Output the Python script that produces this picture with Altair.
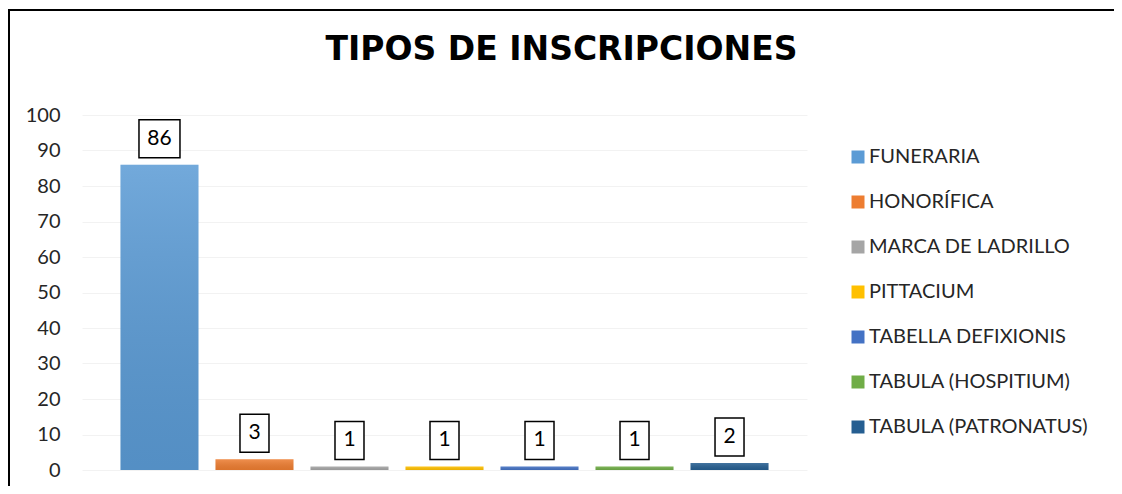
import altair as alt
import pandas as pd

categories = ["FUNERARIA", "HONORÍFICA", "MARCA DE LADRILLO", "PITTACIUM",
              "TABELLA DEFIXIONIS", "TABULA (HOSPITIUM)", "TABULA (PATRONATUS)"]
values = [86, 3, 1, 1, 1, 1, 2]
colors = ["#5B9BD5", "#ED7D31", "#A5A5A5", "#FFC000", "#4472C4", "#70AD47", "#255E91"]
y_ticks = [0, 10, 20, 30, 40, 50, 60, 70, 80, 90, 100]

df = pd.DataFrame({"tipo": categories, "n": values})
FONT = "Lato"
W, H = 725, 355
PAD = {"left": 74, "top": 107, "right": 307, "bottom": 16}

xenc = alt.X("tipo:N", sort=categories, axis=None,
             scale=alt.Scale(paddingInner=0.179, paddingOuter=0.405))
yenc = alt.Y("n:Q", scale=alt.Scale(domain=[0, 100]),
             axis=alt.Axis(values=y_ticks, title=None, domain=False, ticks=False,
                           labelFontSize=20, labelFont=FONT, labelColor="#262626",
                           labelPadding=22, labelOverlap=False, grid=True,
                           gridColor="#f2f2f2"))

base = alt.Chart(df)

bars = base.mark_bar().encode(
    x=xenc, y=yenc,
    color=alt.Color("tipo:N", sort=categories,
                    scale=alt.Scale(domain=categories, range=colors),
                    legend=alt.Legend(title=None, orient="none", legendX=766, legendY=32,
                                      symbolType="square", symbolSize=169,
                                      symbolStrokeWidth=0, labelFontSize=20,
                                      labelFont=FONT, labelColor="#262626",
                                      labelOffset=1, rowPadding=25, padding=0,
                                      labelLimit=400)),
)

shade = base.mark_bar(
    color=alt.Gradient(
        gradient="linear", x1=0, x2=0, y1=0, y2=1,
        stops=[alt.GradientStop(color="rgba(255,255,255,0.14)", offset=0),
               alt.GradientStop(color="rgba(0,0,0,0.08)", offset=1)])
).encode(x=xenc, y=yenc)

box_big = base.transform_filter("datum.n >= 10").mark_rect(
    width=41, fill="white", stroke="black", strokeWidth=1.5,
    yOffset=-7, y2Offset=-45
).encode(x=xenc, y=yenc, y2="n:Q")

box_small = base.transform_filter("datum.n < 10").mark_rect(
    width=29, fill="white", stroke="black", strokeWidth=1.5,
    yOffset=-7, y2Offset=-45
).encode(x=xenc, y=yenc, y2="n:Q")

labels = base.mark_text(
    font=FONT, fontSize=21, color="#000000", baseline="middle", dy=-26
).encode(x=xenc, y=yenc, text="n:Q")

frame = alt.Chart(alt.Data(values=[{}]))
top_line = frame.mark_rule(color="#000000", strokeWidth=2).encode(
    x=alt.value(-PAD["left"]), x2=alt.value(W + PAD["right"]), y=alt.value(-PAD["top"] + 2))
left_line = frame.mark_rule(color="#000000", strokeWidth=2).encode(
    x=alt.value(-PAD["left"] + 1), y=alt.value(-PAD["top"] + 1), y2=alt.value(H + PAD["bottom"]))

chart = alt.layer(bars, shade, box_big, box_small, labels, top_line, left_line).properties(
    width=W, height=H,
    autosize=alt.AutoSizeParams(type="none"),
    padding=PAD,
    title=alt.TitleParams("TIPOS DE INSCRIPCIONES", font="DejaVu Sans", fontSize=33,
                          fontWeight="bold", color="#000000",
                          anchor="middle", frame="group", dx=117, offset=-85,
                          baseline="alphabetic"),
).configure(background="white").configure_view(stroke=None)

chart.save("out.html", embed_options={"renderer": "svg", "actions": False})
